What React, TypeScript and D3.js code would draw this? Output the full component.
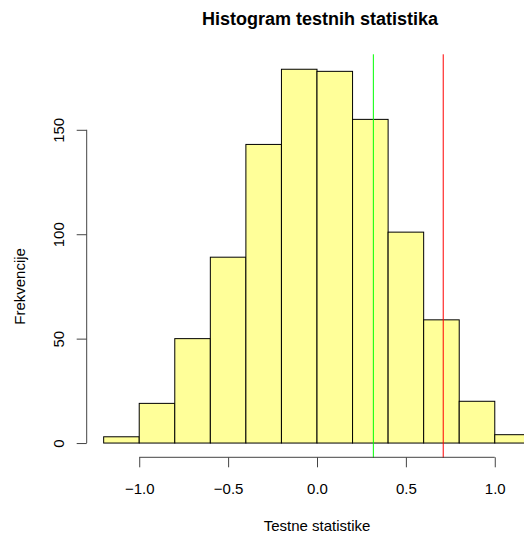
import React, { useEffect, useRef } from 'react';
import * as d3 from 'd3';

// Histogram bins (breaks) and counts
const BREAKS = [-1.2, -1.0, -0.8, -0.6, -0.4, -0.2, 0.0, 0.2, 0.4, 0.6, 0.8, 1.0, 1.2];
const COUNTS = [3, 19, 50, 89, 143, 179, 178, 155, 101, 59, 20, 4];

const X_TICKS = [-1.0, -0.5, 0.0, 0.5, 1.0];
const Y_TICKS = [0, 50, 100, 150];

// Reference lines
const LINE_VALUES = [0.317, 0.71];
const LINE_COLORS = ['#00ff00', '#ff0000'];

const TITLE = 'Histogram testnih statistika';
const X_LABEL = 'Testne statistike';
const Y_LABEL = 'Frekvencije';

export default function App() {
  const svgRef = useRef<SVGSVGElement>(null);

  useEffect(() => {
    if (!svgRef.current) return;

    const width = 524;
    const height = 535;
    const font = "'Liberation Sans', Arial, Helvetica, sans-serif";

    const svg = d3.select(svgRef.current);
    svg.selectAll('*').remove();

    // R-like user coordinates: range extended by 4%
    const x = d3.scaleLinear().domain([-1.296, 1.296]).range([86.6, 547.4]);
    const yMax = d3.max(COUNTS)!;
    const y = d3.scaleLinear().domain([-0.04 * yMax, 1.04 * yMax]).range([458, 54.3]);

    const bins = COUNTS.map((c, i) => ({ x0: BREAKS[i], x1: BREAKS[i + 1], count: c }));

    // Bars
    svg.selectAll('rect.bar')
      .data(bins)
      .enter()
      .append('rect')
      .attr('class', 'bar')
      .attr('x', d => x(d.x0))
      .attr('y', d => y(d.count))
      .attr('width', d => x(d.x1) - x(d.x0))
      .attr('height', d => y(0) - y(d.count))
      .attr('fill', '#ffff99')
      .attr('stroke', '#000')
      .attr('stroke-width', 1);

    // Vertical reference lines
    svg.selectAll('line.ref')
      .data(LINE_VALUES)
      .enter()
      .append('line')
      .attr('class', 'ref')
      .attr('x1', d => x(d))
      .attr('x2', d => x(d))
      .attr('y1', y.range()[1])
      .attr('y2', y.range()[0])
      .attr('stroke', (d, i) => LINE_COLORS[i])
      .attr('stroke-width', 1);

    // X axis
    const xAxis = svg.append('g')
      .attr('transform', `translate(0,457.3)`)
      .call(d3.axisBottom(x).tickValues(X_TICKS).tickSize(10).tickPadding(16)
        .tickFormat(d => d3.format('.1f')(d as number).replace('-', '\u2212')));
    xAxis.select('.domain').attr('stroke', '#444').attr('d', `M${x(X_TICKS[0])},0H${x(X_TICKS[X_TICKS.length - 1])}`);
    xAxis.selectAll('.tick line').attr('stroke', '#444');
    xAxis.selectAll('text')
      .style('font-family', font)
      .style('font-size', '15px')
      .style('fill', '#000');

    // Y axis
    const yAxis = svg.append('g')
      .attr('transform', `translate(86.7,0)`)
      .call(d3.axisLeft(y).tickValues(Y_TICKS).tickSize(10).tickFormat(d3.format('d')));
    yAxis.select('.domain').attr('stroke', '#444').attr('d', `M0,${y(Y_TICKS[0])}V${y(Y_TICKS[Y_TICKS.length - 1])}`);
    yAxis.selectAll('.tick line').attr('stroke', '#444');
    yAxis.selectAll('text')
      .attr('dy', 0)
      .attr('transform', 'rotate(-90)')
      .attr('x', 0)
      .attr('y', -23)
      .style('text-anchor', 'middle')
      .style('font-family', font)
      .style('font-size', '15px')
      .style('fill', '#000');

    // Title and axis labels
    svg.append('text')
      .attr('x', 320)
      .attr('y', 25)
      .attr('text-anchor', 'middle')
      .style('font-family', font)
      .style('font-size', '18px')
      .style('font-weight', 'bold')
      .text(TITLE);

    svg.append('text')
      .attr('x', 317)
      .attr('y', 531)
      .attr('text-anchor', 'middle')
      .style('font-family', font)
      .style('font-size', '15px')
      .text(X_LABEL);

    svg.append('text')
      .attr('transform', `translate(24.5,${(y(0) + y(150)) / 2}) rotate(-90)`)
      .attr('text-anchor', 'middle')
      .style('font-family', font)
      .style('font-size', '15px')
      .text(Y_LABEL);

    svg.attr('width', width).attr('height', height);
  }, []);

  return (
    <svg
      ref={svgRef}
      width={524}
      height={535}
      style={{ position: 'absolute', left: 0, top: 0, background: '#fff' }}
    />
  );
}
